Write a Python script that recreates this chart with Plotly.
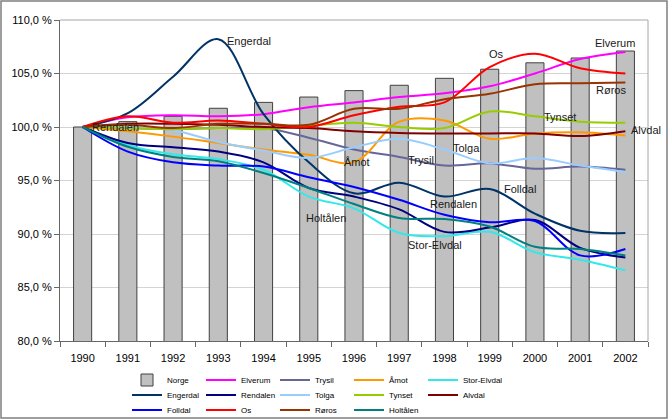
import plotly.graph_objects as go

years = ["1990", "1991", "1992", "1993", "1994", "1995", "1996", "1997", "1998", "1999", "2000", "2001", "2002"]

norge       = [100, 100.5, 101.0, 101.75, 102.3, 102.8, 103.4, 103.9, 104.55, 105.4, 106.0, 106.45, 107.1]
elverum     = [100, 100.9, 101.1, 101.0, 101.2, 101.85, 102.3, 102.8, 103.15, 103.8, 105.0, 106.35, 107.0]
trysil      = [100, 99.9, 99.8, 99.9, 99.9, 99.0, 97.9, 97.2, 96.4, 96.6, 96.1, 96.3, 96.0]
amot        = [100, 99.6, 99.1, 98.5, 97.9, 97.4, 96.7, 100.5, 100.6, 98.9, 99.4, 99.5, 99.2]
stor_elvdal = [100, 98.3, 97.45, 97.0, 96.0, 93.5, 92.4, 90.1, 89.8, 90.2, 88.3, 87.6, 86.6]
engerdal    = [100, 101.3, 104.7, 108.2, 101.2, 96.7, 93.8, 94.8, 93.5, 94.2, 91.9, 90.3, 90.1]
rendalen    = [100, 98.5, 98.1, 97.7, 96.7, 94.3, 93.5, 92.3, 90.2, 90.6, 91.3, 88.7, 87.8]
tolga       = [100, 100.0, 99.7, 98.6, 97.8, 97.1, 98.1, 98.9, 97.9, 96.6, 97.1, 96.4, 95.8]
tynset      = [100, 99.9, 99.8, 99.9, 99.8, 100.1, 100.4, 100.0, 99.9, 101.45, 101.0, 100.5, 100.4]
alvdal      = [100, 100.3, 100.3, 100.2, 100.0, 99.9, 99.6, 99.45, 99.4, 99.4, 99.4, 99.15, 99.6]
folldal     = [100, 97.7, 96.7, 96.4, 96.3, 95.3, 94.4, 93.2, 91.8, 91.1, 91.2, 88.0, 88.6]
os_         = [100, 101.0, 100.4, 100.6, 100.3, 100.0, 101.1, 101.9, 102.3, 105.6, 106.85, 105.5, 105.0]
roros       = [100, 100.2, 99.9, 100.3, 100.3, 100.2, 101.7, 101.7, 102.6, 103.1, 104.0, 104.1, 104.15]
holtalen    = [100, 98.15, 97.2, 96.8, 95.7, 94.3, 92.8, 91.5, 91.4, 90.7, 88.8, 88.6, 88.0]

# (name, values, colour, legend row)
series = [
    ("Elverum", elverum, "#FF00FF", "legend"),
    ("Trysil", trysil, "#666699", "legend"),
    ("Åmot", amot, "#FF9900", "legend"),
    ("Stor-Elvdal", stor_elvdal, "#33E8E8", "legend"),
    ("Engerdal", engerdal, "#003366", "legend2"),
    ("Rendalen", rendalen, "#000080", "legend2"),
    ("Tolga", tolga, "#99CCFF", "legend2"),
    ("Tynset", tynset, "#99CC00", "legend2"),
    ("Alvdal", alvdal, "#800000", "legend2"),
    ("Folldal", folldal, "#0000FF", "legend3"),
    ("Os", os_, "#FF0000", "legend3"),
    ("Røros", roros, "#993300", "legend3"),
    ("Holtålen", holtalen, "#008080", "legend3"),
]
row_last = {"Stor-Elvdal", "Alvdal", "Holtålen"}

# text labels placed on the chart (category index, value)
labels = [
    ("Engerdal", 3.68, 108.06), ("Rendalen", 0.72, 100.0), ("Åmot", 6.07, 96.72),
    ("Trysil", 7.48, 96.9), ("Tolga", 8.48, 98.03), ("Os", 9.16, 106.84),
    ("Elverum", 11.77, 107.87), ("Røros", 11.68, 103.47), ("Tynset", 10.55, 100.94),
    ("Alvdal", 12.46, 99.72), ("Folldal", 9.67, 94.19), ("Rendalen", 8.19, 92.78),
    ("Stor-Elvdal", 7.79, 88.94), ("Holtålen", 5.38, 91.47),
]

FONT = "Liberation Sans, Arial, sans-serif"
W, H = 670, 420
ML, MR, MT, MB = 60, 22, 20, 79
PW, PH = W - ML - MR, H - MT - MB

fig = go.Figure()
fig.add_trace(go.Bar(x=years, y=norge, name="Norge", width=0.4,
                     marker=dict(color="#C0C0C0", line=dict(color="#404040", width=1)),
                     legend="legend"))
for name, vals, col, leg in series:
    kw = {}
    if name in row_last:
        kw["legendwidth"] = 60
    fig.add_trace(go.Scatter(x=years, y=vals, name=name, mode="lines",
                             line=dict(color=col, width=2, shape="spline", smoothing=1.0),
                             legend=leg, **kw))

annotations = [dict(x=x, y=y, xref="x", yref="y", text=t, showarrow=False,
                    font=dict(family=FONT, size=11, color="#1a1a1a"))
               for t, x, y in labels]

def px2paper_x(px):
    return (px - ML) / PW

def px2paper_y(py):
    return (H - MB - py) / PH

legend_common = dict(orientation="h", xref="container", yref="container",
                     x=127 / W, xanchor="left", yanchor="middle",
                     entrywidth=29, font=dict(family=FONT, size=8, color="#000"),
                     bgcolor="rgba(0,0,0,0)", itemclick=False)

fig.update_layout(
    width=W, height=H,
    margin=dict(l=ML, r=MR, t=MT, b=MB, autoexpand=False),
    paper_bgcolor="white", plot_bgcolor="white",
    separators=", ",
    font=dict(family=FONT, size=11, color="#000"),
    barmode="overlay",
    xaxis=dict(type="category", range=[-0.5, 12.5], showgrid=False,
               showline=True, linecolor="#666", linewidth=1,
               ticks="outside", ticklen=5, tickcolor="#666", tickson="boundaries",
               ticklabelstandoff=7, automargin=False,
               tickfont=dict(family=FONT, size=11, color="#000")),
    yaxis=dict(range=[80, 110], dtick=5, tick0=80, tickformat=".1f", ticksuffix=" %",
               showgrid=True, gridcolor="#d4d4d4", gridwidth=1, zeroline=False,
               showline=True, linecolor="#666", linewidth=1, automargin=False,
               ticks="outside", ticklen=5, tickcolor="#666",
               tickfont=dict(family=FONT, size=11, color="#000")),
    legend=dict(**legend_common, y=1 - 380 / H),
    legend2=dict(**legend_common, y=1 - 395 / H),
    legend3=dict(**legend_common, y=1 - 410 / H),
    annotations=annotations,
    shapes=[
        dict(type="line", xref="paper", yref="paper", x0=0, x1=1, y0=1, y1=1,
             line=dict(color="#a6a6a6", width=1)),
        dict(type="line", xref="paper", yref="paper", x0=1, x1=1, y0=0, y1=1,
             line=dict(color="#a6a6a6", width=1)),
        dict(type="rect", xref="paper", yref="paper",
             x0=px2paper_x(1), x1=px2paper_x(667), y0=px2paper_y(418), y1=px2paper_y(1),
             line=dict(color="#7f7f7f", width=1.5)),
    ],
)

fig.write_html("out.html")
